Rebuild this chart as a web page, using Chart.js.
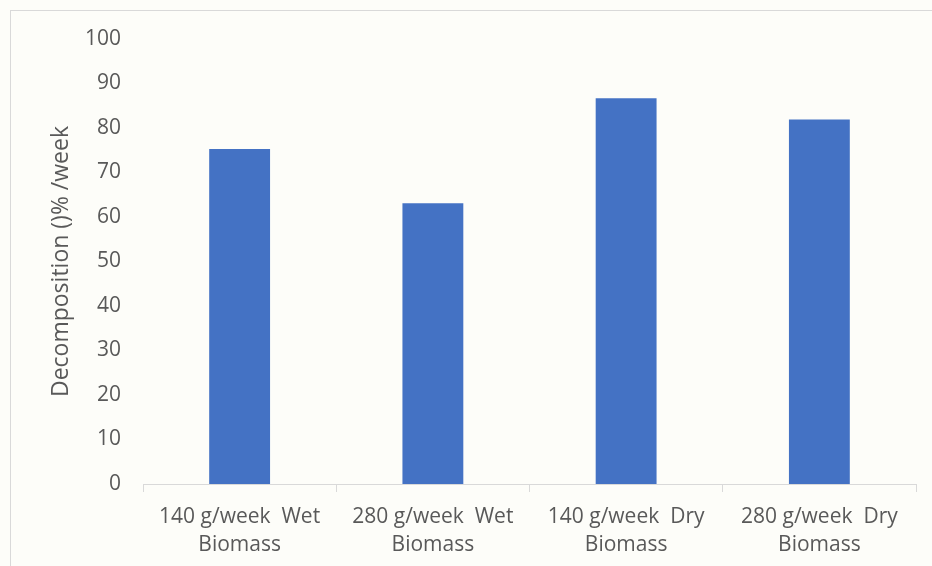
<!DOCTYPE html>
<html>
<head>
<meta charset="utf-8">
<script src="https://cdn.jsdelivr.net/npm/chart.js@4"></script>
<style>
  html, body { margin: 0; padding: 0; background: #ffffff; }
  #wrap { width: 932px; height: 566px; }
</style>
</head>
<body>
<div id="wrap"><canvas id="decompChart" width="932" height="566"></canvas></div>
<script>
// Decomposition chart
const categories = [
    ['140 g/week  Wet', 'Biomass'],
    ['280 g/week  Wet', 'Biomass'],
    ['140 g/week  Dry', 'Biomass'],
    ['280 g/week  Dry', 'Biomass']
];
const decomposition = [75.3, 63.1, 86.7, 81.9];
const yTicks = [0, 10, 20, 30, 40, 50, 60, 70, 80, 90, 100];

(function () {
    const barBlue = '#4472c4';
    const labelGrey = '#595959';
    const axisGrey = '#d9d9d9';
    const fontFamily = '"Open Sans", "Liberation Sans", sans-serif';

    // paper background + thin frame
    const frame = {
        id: 'frame',
        beforeDraw(chart) {
            const c = chart.ctx;
            c.save();
            c.fillStyle = '#fdfdf9';
            c.fillRect(0, 0, chart.width, chart.height);
            c.strokeStyle = '#d9d9d9';
            c.lineWidth = 1;
            c.strokeRect(10.5, 10.5, chart.width + 20, chart.height + 20);
            c.restore();
        }
    };

    new Chart(document.getElementById('decompChart'), {
        type: 'bar',
        data: {
            labels: categories,
            datasets: [{
                data: decomposition,
                backgroundColor: barBlue,
                borderWidth: 0,
                categoryPercentage: 1,
                barPercentage: 0.315
            }]
        },
        options: {
            responsive: false,
            animation: false,
            layout: { padding: { left: 0, top: 39, right: 16, bottom: 0 } },
            plugins: { legend: { display: false }, tooltip: { enabled: false } },
            scales: {
                x: {
                    grid: { offset: true, drawOnChartArea: false, color: axisGrey, tickLength: 8 },
                    border: { color: axisGrey, width: 1 },
                    ticks: {
                        color: labelGrey, padding: 11, maxRotation: 0, autoSkip: false,
                        font: { family: fontFamily, size: 21, lineHeight: 1.33 }
                    },
                    afterFit(s) { s.height = 82; }
                },
                y: {
                    min: 0, max: 100,
                    afterBuildTicks(s) { s.ticks = yTicks.map(v => ({ value: v })); },
                    grid: { display: false, drawTicks: false, tickLength: 0 },
                    border: { display: false },
                    ticks: {
                        color: labelGrey, padding: 22,
                        font: { family: fontFamily, size: 21 }
                    },
                    title: {
                        display: true,
                        text: 'Decomposition ()% /week',
                        color: labelGrey,
                        padding: { top: 48, bottom: 0 },
                        font: { family: fontFamily, size: 23 }
                    },
                    afterFit(s) { s.width = 143; }
                }
            }
        },
        plugins: [frame]
    });
})();
</script>
</body>
</html>
